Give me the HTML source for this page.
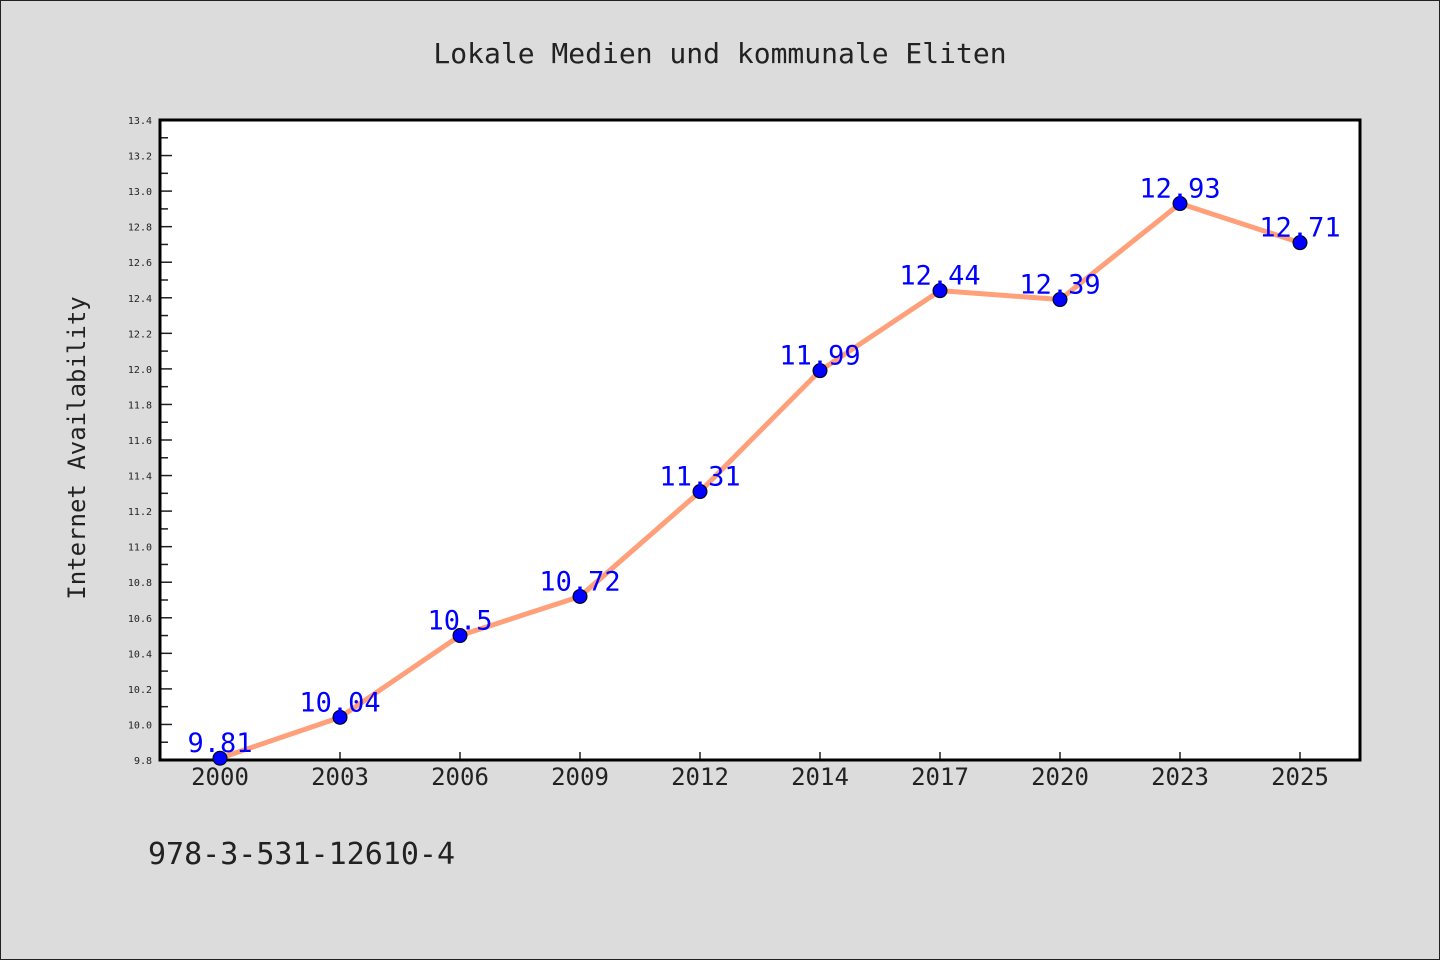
<!DOCTYPE html>
<html><head><meta charset="utf-8"><style>
html,body{margin:0;padding:0;background:#dcdcdc;}
svg{display:block;font-family:"DejaVu Sans Mono","Liberation Mono",monospace;}
</style></head><body>
<svg id="chart" width="1440" height="960" viewBox="0 0 1440 960">
<rect x="0.5" y="0.5" width="1439" height="959" fill="#dcdcdc" stroke="#222"/>
<text x="720" y="63" text-anchor="middle" font-size="28" fill="#222">Lokale Medien und kommunale Eliten</text>
<rect x="160" y="120" width="1200" height="640" fill="#fff"/>
<g id="axes"></g>
<g id="series"></g>
<text transform="translate(85,448) rotate(-90)" text-anchor="middle" font-size="24" fill="#222">Internet Availability</text>
<text x="148" y="864" font-size="30" fill="#222">978-3-531-12610-4</text>
</svg>
<script>
const categories = ["2000","2003","2006","2009","2012","2014","2017","2020","2023","2025"];
const values = [9.81,10.04,10.5,10.72,11.31,11.99,12.44,12.39,12.93,12.71];
const yTicks = ["9.8","10.0","10.2","10.4","10.6","10.8","11.0","11.2","11.4","11.6","11.8","12.0","12.2","12.4","12.6","12.8","13.0","13.2","13.4"];
const yMin = 9.8, yMax = 13.4;
const L=160,R=1360,T=120,B=760;
const NS="http://www.w3.org/2000/svg";
function x(i){return 220+i*(1080/(categories.length-1));}
function y(v){return B-(v-yMin)/(yMax-yMin)*(B-T);}
function mk(tag,attrs,parent){const e=document.createElementNS(NS,tag);for(const k in attrs)e.setAttribute(k,attrs[k]);parent.appendChild(e);return e;}
const axes=document.getElementById('axes'), ser=document.getElementById('series');
yTicks.forEach((t,i)=>{
  const v=parseFloat(t), yy=y(v);
  const ln=mk('line',{x1:L,x2:L+12,y1:yy,y2:yy,stroke:'#222','stroke-width':1.5},axes);
  
  
  const tx=mk('text',{x:152,y:yy+4,'text-anchor':'end','font-size':10,fill:'#222'},axes);
  tx.textContent=t;
  
  
  if(i<yTicks.length-1){
    const ym=y(v+0.1);
    const mn=mk('line',{x1:L,x2:L+8,y1:ym,y2:ym,stroke:'#222','stroke-width':1.5},axes);
    
    
  }
});
categories.forEach((c,i)=>{
  const xx=x(i);
  const ln=mk('line',{x1:xx,x2:xx,y1:B,y2:B-8,stroke:'#222','stroke-width':1.5},axes);
  
  
  const tx=mk('text',{x:xx,y:785,'text-anchor':'middle','font-size':24,fill:'#222'},axes);
  tx.textContent=c;
  
  
});
const fr=mk('rect',{x:L,y:T,width:R-L,height:B-T,fill:'none',stroke:'#000','stroke-width':3},axes);


const pl=mk('polyline',{points:values.map((v,i)=>x(i)+','+y(v)).join(' '),fill:'none',stroke:'#ffa07a','stroke-width':5,'stroke-linejoin':'round'},ser);


values.forEach((v,i)=>{
  const c=mk('circle',{cx:x(i),cy:y(v),r:7,fill:'#0000ff',stroke:'#000','stroke-width':1},ser);
  
  
});
values.forEach((v,i)=>{
  const t=mk('text',{x:x(i),y:y(v)-6,'text-anchor':'middle','font-size':27,fill:'#0000ff'},ser);
  t.textContent=String(v);
  
  
});
</script>
</body></html>
